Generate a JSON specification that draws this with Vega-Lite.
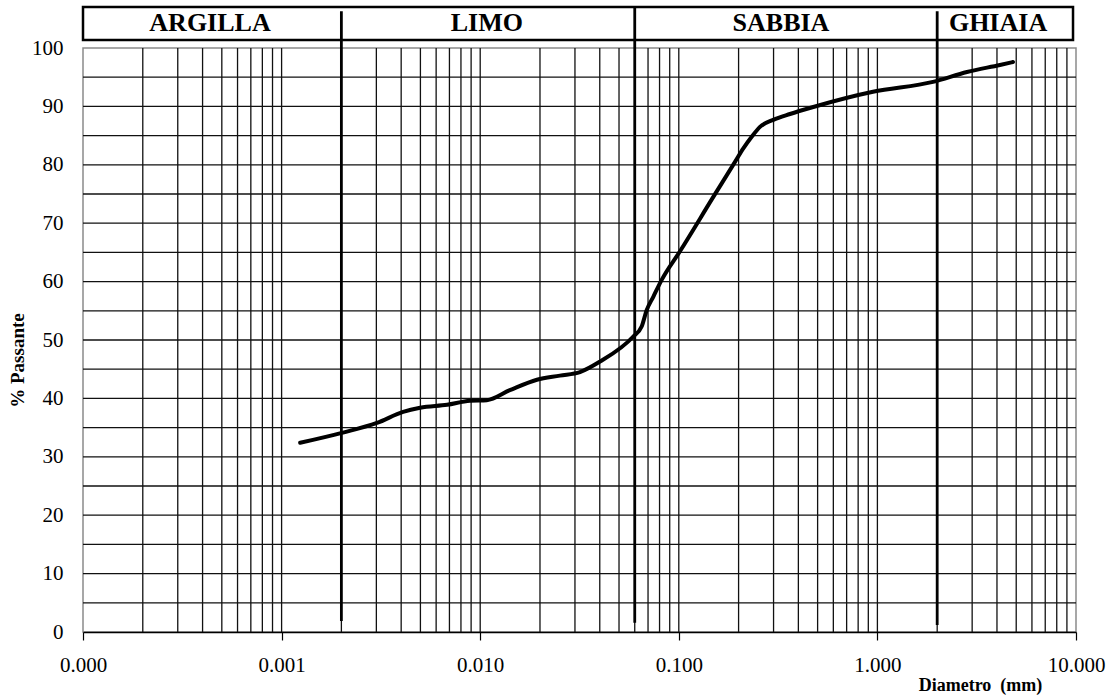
{
  "$schema": "https://vega.github.io/schema/vega-lite/v6.json",
  "width": 993,
  "height": 584,
  "autosize": {"type": "none"},
  "padding": {"left": 83, "top": 48, "right": 38, "bottom": 63},
  "background": "white",
  "config": {
    "view": {"stroke": "#8a8a8a", "strokeWidth": 1.5},
    "font": "Liberation Serif"
  },
  "datasets": {
    "curve": [
      {"d": 0.00124, "p": 32.4},
      {"d": 0.00201, "p": 34.1},
      {"d": 0.00302, "p": 35.8},
      {"d": 0.00409, "p": 37.7},
      {"d": 0.00498, "p": 38.4},
      {"d": 0.00681, "p": 38.9},
      {"d": 0.00888, "p": 39.6},
      {"d": 0.0108, "p": 39.7},
      {"d": 0.0141, "p": 41.4},
      {"d": 0.0193, "p": 43.2},
      {"d": 0.0252, "p": 43.9},
      {"d": 0.0318, "p": 44.5},
      {"d": 0.0401, "p": 46.3},
      {"d": 0.059, "p": 50.6},
      {"d": 0.065, "p": 52.3},
      {"d": 0.0689, "p": 55.1},
      {"d": 0.0744, "p": 57.4},
      {"d": 0.082, "p": 60.3},
      {"d": 0.1014, "p": 65.2},
      {"d": 0.1492, "p": 74.5},
      {"d": 0.1919, "p": 80.5},
      {"d": 0.2113, "p": 82.8},
      {"d": 0.2328, "p": 84.8},
      {"d": 0.2563, "p": 86.5},
      {"d": 0.299, "p": 87.7},
      {"d": 0.363, "p": 88.7},
      {"d": 0.4755, "p": 89.9},
      {"d": 0.95, "p": 92.5},
      {"d": 1.905, "p": 94.2},
      {"d": 2.826, "p": 95.9},
      {"d": 4.142, "p": 97.1},
      {"d": 4.817, "p": 97.6}
    ],
    "vgrid": [
      {"d": 0.0002}, {"d": 0.0003}, {"d": 0.0004}, {"d": 0.0005}, {"d": 0.0006}, {"d": 0.0007}, {"d": 0.0008}, {"d": 0.0009},
      {"d": 0.001}, {"d": 0.002}, {"d": 0.003}, {"d": 0.004}, {"d": 0.005}, {"d": 0.006}, {"d": 0.007}, {"d": 0.008}, {"d": 0.009},
      {"d": 0.01}, {"d": 0.02}, {"d": 0.03}, {"d": 0.04}, {"d": 0.05}, {"d": 0.06}, {"d": 0.07}, {"d": 0.08}, {"d": 0.09},
      {"d": 0.1}, {"d": 0.2}, {"d": 0.3}, {"d": 0.4}, {"d": 0.5}, {"d": 0.6}, {"d": 0.7}, {"d": 0.8}, {"d": 0.9},
      {"d": 1}, {"d": 2}, {"d": 3}, {"d": 4}, {"d": 5}, {"d": 6}, {"d": 7}, {"d": 8}, {"d": 9}
    ],
    "hgrid": [
      {"p": 5}, {"p": 10}, {"p": 15}, {"p": 20}, {"p": 25}, {"p": 30}, {"p": 35}, {"p": 40}, {"p": 45}, {"p": 50},
      {"p": 55}, {"p": 60}, {"p": 65}, {"p": 70}, {"p": 75}, {"p": 80}, {"p": 85}, {"p": 90}, {"p": 95}
    ],
    "bounds": [
      {"d": 0.002, "p": 1.9, "p2": 106.3},
      {"d": 0.06, "p": 1.6, "p2": 106.9},
      {"d": 2, "p": 1.2, "p2": 106.3}
    ],
    "box": [
      {"d": 0.0001, "d2": 9.66, "p": 101.37, "p2": 107.0}
    ],
    "labels": [
      {"d": 0.000436, "p": 104.2, "name": "ARGILLA"},
      {"d": 0.0108, "p": 104.2, "name": "LIMO"},
      {"d": 0.327, "p": 104.2, "name": "SABBIA"},
      {"d": 4.05, "p": 104.2, "name": "GHIAIA"}
    ]
  },
  "layer": [
    {
      "data": {"name": "hgrid"},
      "mark": {"type": "rule", "color": "#111111", "strokeWidth": 1.3},
      "encoding": {
        "y": {
          "field": "p",
          "type": "quantitative",
          "scale": {"domain": [0, 100], "nice": false, "zero": false},
          "axis": {
            "values": [0, 10, 20, 30, 40, 50, 60, 70, 80, 90, 100],
            "grid": false,
            "ticks": false,
            "domain": false,
            "labelFont": "Liberation Serif",
            "labelFontSize": 21,
            "labelColor": "black",
            "labelPadding": 20,
            "title": "% Passante",
            "titleFont": "Liberation Serif",
            "titleFontSize": 19,
            "titleFontWeight": "bold",
            "titleColor": "black",
            "titleAngle": -90,
            "titleX": -66,
            "titleY": 312,
            "titleAlign": "center",
            "titleBaseline": "middle"
          }
        }
      }
    },
    {
      "data": {"name": "vgrid"},
      "mark": {"type": "rule", "color": "#111111", "strokeWidth": 1.3},
      "encoding": {
        "x": {
          "field": "d",
          "type": "quantitative",
          "scale": {"type": "log", "domain": [0.0001, 10], "nice": false},
          "axis": {
            "values": [0.0001, 0.001, 0.01, 0.1, 1, 10],
            "format": ".3f",
            "grid": false,
            "tickSize": 8,
            "tickColor": "black",
            "tickWidth": 1.2,
            "domainColor": "black",
            "domainWidth": 1.5,
            "labelFont": "Liberation Serif",
            "labelFontSize": 21,
            "labelColor": "black",
            "labelPadding": 14,
            "labelFlush": false,
            "labelOverlap": false,
            "title": "Diametro\u00a0\u00a0(mm)",
            "titleFont": "Liberation Serif",
            "titleFontSize": 18,
            "titleFontWeight": "bold",
            "titleColor": "black",
            "titleX": 897,
            "titleY": 53,
            "titleAlign": "center",
            "titleBaseline": "middle"
          }
        }
      }
    },
    {
      "data": {"name": "curve"},
      "mark": {"type": "line", "color": "black", "strokeWidth": 4, "interpolate": "monotone", "strokeCap": "round"},
      "encoding": {
        "x": {"field": "d", "type": "quantitative"},
        "y": {"field": "p", "type": "quantitative"}
      }
    },
    {
      "data": {"name": "bounds"},
      "mark": {"type": "rule", "color": "black", "strokeWidth": 2.8, "clip": false},
      "encoding": {
        "x": {"field": "d", "type": "quantitative"},
        "y": {"field": "p", "type": "quantitative"},
        "y2": {"field": "p2"}
      }
    },
    {
      "data": {"name": "box"},
      "mark": {"type": "rect", "fillOpacity": 0, "stroke": "black", "strokeWidth": 2.5, "clip": false},
      "encoding": {
        "x": {"field": "d", "type": "quantitative"},
        "x2": {"field": "d2"},
        "y": {"field": "p", "type": "quantitative"},
        "y2": {"field": "p2"}
      }
    },
    {
      "data": {"name": "labels"},
      "mark": {"type": "text", "font": "Liberation Serif", "fontSize": 26, "fontWeight": "bold", "color": "black", "align": "center", "baseline": "middle", "clip": false},
      "encoding": {
        "x": {"field": "d", "type": "quantitative"},
        "y": {"field": "p", "type": "quantitative"},
        "text": {"field": "name", "type": "nominal"}
      }
    }
  ]
}
